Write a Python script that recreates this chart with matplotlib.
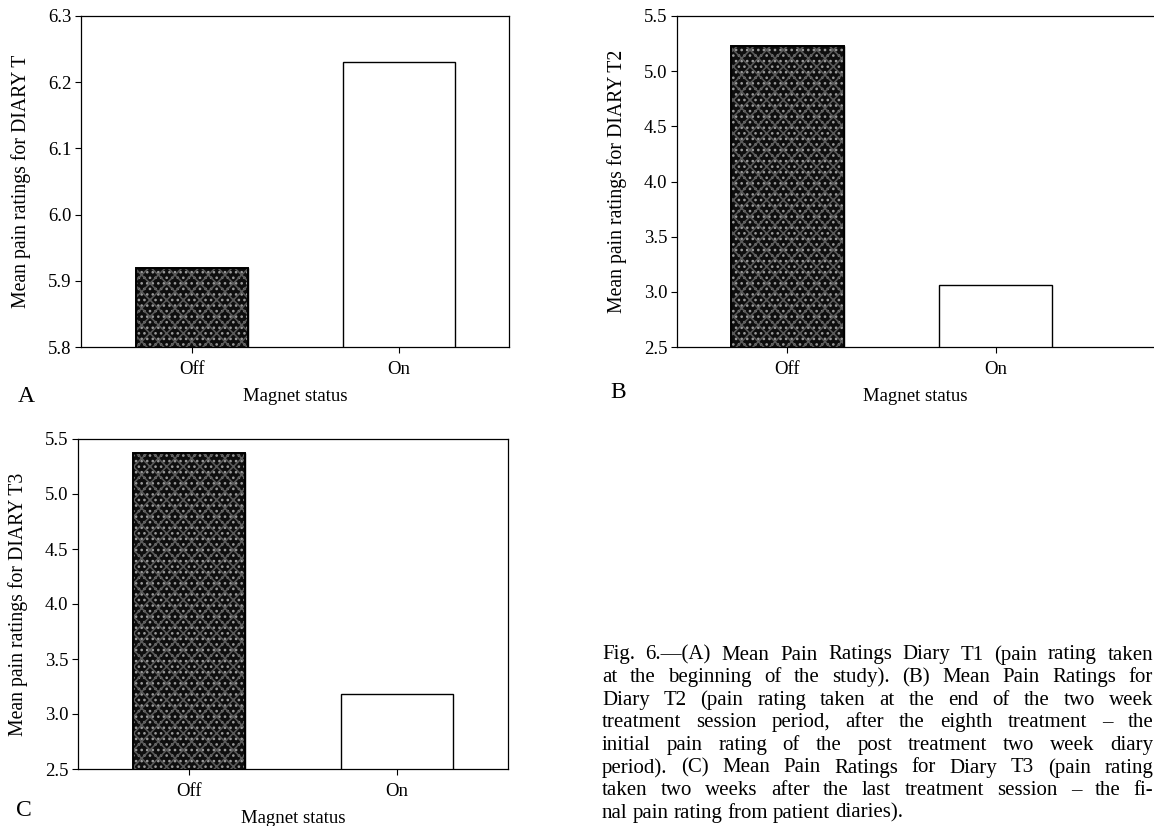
import matplotlib
matplotlib.use('Agg')
import matplotlib.pyplot as plt

plt.rcParams['font.family'] = ['Liberation Serif', 'DejaVu Serif']
plt.rcParams['hatch.linewidth'] = 1.1

# data
status = ['Off', 'On']
diary_t1 = [5.92, 6.23]
diary_t2 = [5.23, 3.06]
diary_t3 = [5.37, 3.18]
ylabels = ['Mean pain ratings for DIARY T', 'Mean pain ratings for DIARY T2',
           'Mean pain ratings for DIARY T3']
ticks_t1 = [5.8, 5.9, 6.0, 6.1, 6.2, 6.3]
ticks_t23 = [2.5, 3.0, 3.5, 4.0, 4.5, 5.0, 5.5]
caption = [
    'Fig. 6.\u2014(A) Mean Pain Ratings Diary T1 (pain rating taken',
    'at the beginning of the study). (B) Mean Pain Ratings for',
    'Diary T2 (pain rating taken at the end of the two week',
    'treatment session period, after the eighth treatment \u2013 the',
    'initial pain rating of the post treatment two week diary',
    'period). (C) Mean Pain Ratings for Diary T3 (pain rating',
    'taken two weeks after the last treatment session \u2013 the fi-',
    'nal pain rating from patient diaries).',
]

W, H = 1154, 826
fig = plt.figure(figsize=(W / 100, H / 100), dpi=100)


def px_axes(l, t, r, b):
    return fig.add_axes([l / W, 1 - b / H, (r - l) / W, (b - t) / H])


def panel(ax, vals, ylim, yticks, ylabel, xlim):
    x = range(len(status))
    ax.bar(x, vals, width=0.54, bottom=0, color=['#0e0e0e', 'white'],
           edgecolor='black', linewidth=1.0, zorder=2)
    # speckle texture on the "Off" bar
    ax.bar(x[0], vals[0], width=0.54, color='none', edgecolor='#9c9c9c',
           hatch='...', linewidth=0, zorder=3)
    ax.bar(x[0], vals[0], width=0.54, color='none', edgecolor='#5a5a5a',
           hatch='xx', linewidth=0, zorder=3)
    ax.bar(x[0], vals[0], width=0.54, color='none', edgecolor='black',
           linewidth=1.4, zorder=4)
    ax.set_ylim(*ylim)
    ax.set_xlim(*xlim)
    ax.set_yticks(yticks)
    ax.set_yticklabels(['%.1f' % v for v in yticks])
    ax.set_xticks(list(x))
    ax.set_xticklabels(status)
    ax.tick_params(direction='out', length=4, width=0.8, labelsize=13.5)
    ax.tick_params(axis='y', pad=3)
    ax.tick_params(axis='x', pad=6)
    ax.set_ylabel(ylabel, fontsize=14.2, labelpad=12)
    ax.set_xlabel('Magnet status', fontsize=13.5, labelpad=7)
    for s in ax.spines.values():
        s.set_linewidth(0.9)


axA = px_axes(81, 16, 509, 347)
panel(axA, diary_t1, (5.8, 6.3), ticks_t1, ylabels[0], (-0.535, 1.53))
axB = px_axes(677, 16, 1154, 347)
panel(axB, diary_t2, (2.5, 5.5), ticks_t23, ylabels[1], (-0.53, 1.76))
axB.spines['right'].set_visible(False)
axC = px_axes(78, 439, 508, 769)
panel(axC, diary_t3, (2.5, 5.5), ticks_t23, ylabels[2], (-0.535, 1.535))

fig.text(18 / W, 1 - 396 / H, 'A', fontsize=17, ha='left', va='center')
fig.text(610 / W, 1 - 392 / H, 'B', fontsize=17, ha='left', va='center')
fig.text(16 / W, 1 - 811 / H, 'C', fontsize=17, ha='left', va='center')

# justified caption, word by word
renderer = fig.canvas.get_renderer()
x0, x1 = 602, 1153
y0, dy = 655, 22.6
for i, line in enumerate(caption):
    y = 1 - (y0 + i * dy) / H
    words = line.split(' ')
    texts = [fig.text(0, y, w, fontsize=15, va='center', ha='left')
             for w in words]
    widths = [t.get_window_extent(renderer).width for t in texts]
    if i < len(caption) - 1 and len(words) > 1:
        gap = (x1 - x0 - sum(widths)) / (len(words) - 1)
    else:
        gap = 5
    xp = x0
    for t, w in zip(texts, widths):
        t.set_x(xp / W)
        xp += w + gap

fig.savefig('out.png', dpi=100)
